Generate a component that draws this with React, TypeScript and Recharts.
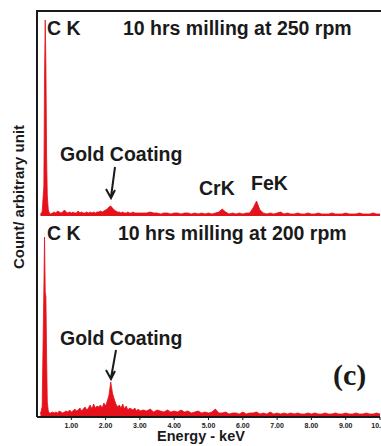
import React from 'react';
import { AreaChart, Area, XAxis, YAxis } from 'recharts';

// Energy (keV) sample positions
const energies = [
  0.10, 0.15, 0.20, 0.22, 0.24, 0.26, 0.28, 0.30, 0.33, 0.36, 0.40,
  0.45, 0.50, 0.55, 0.60, 0.65, 0.70, 0.75, 0.80, 0.85, 0.90,
  0.95, 1.00, 1.05, 1.10, 1.15, 1.20, 1.25, 1.30, 1.35, 1.40,
  1.45, 1.50, 1.55, 1.60, 1.65, 1.70, 1.75, 1.80, 1.85, 1.90,
  1.95, 2.00, 2.05, 2.10, 2.15, 2.20, 2.25, 2.30, 2.35, 2.40,
  2.45, 2.50, 2.55, 2.60, 2.65, 2.70, 2.75, 2.80, 2.85, 2.90,
  2.95, 3.00,
  3.1, 3.2, 3.3, 3.4, 3.5, 3.6, 3.7, 3.8, 3.9, 4.0,
  4.1, 4.2, 4.3, 4.4, 4.5, 4.6, 4.7, 4.8, 4.9, 5.0,
  5.1, 5.2, 5.3, 5.4, 5.5, 5.6, 5.7, 5.8, 5.9, 6.0,
  6.1, 6.2, 6.3, 6.4, 6.5, 6.6, 6.7, 6.8, 6.9, 7.0,
  7.1, 7.2, 7.3, 7.4, 7.5, 7.6, 7.7, 7.8, 7.9, 8.0,
  8.1, 8.2, 8.3, 8.4, 8.5, 8.6, 8.7, 8.8, 8.9, 9.0,
  9.1, 9.2, 9.3, 9.4, 9.5, 9.6, 9.7, 9.8, 9.9, 10.0,
];

// 10 hrs milling at 250 rpm (counts, arbitrary unit)
const topCounts = [
  2, 4, 30, 140, 196, 150, 60, 20, 6, 3, 2,
  3, 4, 3, 5, 4, 3, 4, 6, 4, 3,
  4, 3, 4, 3, 3, 5, 3, 4, 3, 3,
  4, 3, 4, 3, 4, 3, 4, 4, 5, 4,
  5, 6, 7, 9, 10, 8, 6, 5, 4, 4,
  3, 4, 3, 3, 4, 3, 3, 4, 3, 3,
  3, 3,
  3, 3, 4, 3, 3, 2, 3, 3, 2, 3,
  3, 2, 3, 3, 2, 3, 2, 3, 2, 3,
  2, 3, 4, 7, 4, 2, 3, 2, 3, 2,
  3, 3, 8, 15, 6, 3, 2, 3, 2, 3,
  4, 2, 3, 2, 2, 3, 2, 2, 3, 2,
  2, 3, 2, 2, 2, 3, 2, 2, 2, 3,
  2, 2, 2, 3, 2, 2, 2, 3, 2, 2,
];

// 10 hrs milling at 200 rpm (counts, arbitrary unit)
const bottomCounts = [
  3, 10, 127, 180, 125, 120, 60, 15, 6, 4, 4,
  5, 4, 5, 4, 6, 5, 4, 5, 6, 5,
  7, 5, 6, 8, 6, 7, 9, 6, 8, 10,
  7, 9, 12, 8, 13, 9, 11, 10, 12, 9,
  14, 11, 16, 22, 35, 24, 18, 13, 10, 12,
  9, 13, 8, 11, 7, 9, 8, 7, 9, 6,
  8, 6,
  7, 6, 8, 5, 7, 6, 5, 7, 5, 6,
  5, 7, 5, 6, 4, 5, 6, 4, 5, 4,
  5, 8, 4, 4, 5, 3, 4, 4, 3, 5,
  3, 4, 4, 5, 3, 4, 3, 5, 3, 4,
  3, 4, 3, 4, 3, 4, 3, 3, 4, 3,
  4, 3, 3, 4, 3, 3, 4, 3, 3, 4,
  3, 3, 4, 3, 3, 4, 3, 3, 4, 3,
];

const energyTicks = [1, 2, 3, 4, 5, 6, 7, 8, 9, 10];
const topTitle = '10 hrs milling at 250 rpm';
const bottomTitle = '10 hrs milling at 200 rpm';
const peakLabel = 'C K';
const goldLabel = 'Gold Coating';
const crLabel = 'CrK';
const feLabel = 'FeK';
const panelLabel = '(c)';
const xLabel = 'Energy - keV';
const yLabel = 'Count/ arbitrary unit';

const RED = '#e5121b';
const INK = '#1a1a1a';
const FONT = '"Liberation Sans", Arial, sans-serif';

export default function App() {
  const topData = energies.map((e, i) => ({ e, c: topCounts[i] }));
  const bottomData = energies.map((e, i) => ({ e, c: bottomCounts[i] }));
  const txt = { fontFamily: FONT, fontWeight: 700, fill: INK } as const;
  return (
    <div style={{ position: 'absolute', left: 0, top: 0, width: 381, height: 446, background: '#fff', overflow: 'hidden' }}>
      <div style={{ position: 'absolute', left: 36, top: 10, width: 360, height: 407, borderTop: `2px solid ${INK}`, borderLeft: `2px solid ${INK}`, boxSizing: 'border-box' }} />
      <div style={{ position: 'absolute', left: 0, top: 0 }}>
        <AreaChart width={381} height={216} data={topData} margin={{ top: 10, right: 1, bottom: 0, left: 37 }}>
          <XAxis dataKey="e" type="number" domain={[0, 10]} ticks={energyTicks} height={0} tick={false} tickLine={false} axisLine={{ stroke: INK, strokeWidth: 2 }} />
          <YAxis type="number" domain={[0, 206]} hide />
          <Area dataKey="c" type="linear" stroke={RED} strokeWidth={0.8} fill={RED} fillOpacity={1} isAnimationActive={false} dot={false} activeDot={false} />
        </AreaChart>
      </div>
      <div style={{ position: 'absolute', left: 0, top: 216 }}>
        <AreaChart width={381} height={230} data={bottomData} margin={{ top: 0, right: 1, bottom: 0, left: 37 }}>
          <XAxis
            dataKey="e"
            type="number"
            domain={[0, 10]}
            ticks={energyTicks}
            interval={0}
            height={29}
            tickFormatter={(v: number) => v.toFixed(2)}
            tick={{ fontSize: 7, fontWeight: 700, fill: INK, fontFamily: FONT }}
            tickSize={3}
            tickMargin={3}
            tickLine={{ stroke: INK, strokeWidth: 1 }}
            axisLine={{ stroke: INK, strokeWidth: 2 }}
          />
          <YAxis type="number" domain={[0, 201]} hide />
          <Area dataKey="c" type="linear" stroke={RED} strokeWidth={0.8} fill={RED} fillOpacity={1} isAnimationActive={false} dot={false} activeDot={false} />
        </AreaChart>
      </div>
      <svg width={381} height={446} style={{ position: 'absolute', left: 0, top: 0, pointerEvents: 'none' }}>
        <text x={47} y={35} fontSize={19.5} {...txt}>{peakLabel}</text>
        <text x={123} y={35} fontSize={19.5} {...txt}>{topTitle}</text>
        <text x={60} y={161} fontSize={19.5} {...txt}>{goldLabel}</text>
        <path d="M115 167 L111 197 M106 189 L111 198 L115 190" stroke={INK} strokeWidth={2} fill="none" />
        <text x={199} y={195} fontSize={19.5} {...txt}>{crLabel}</text>
        <text x={251} y={190} fontSize={19.5} {...txt}>{feLabel}</text>
        <text x={47} y={240} fontSize={19.5} {...txt}>{peakLabel}</text>
        <text x={118} y={240} fontSize={19.5} {...txt}>{bottomTitle}</text>
        <text x={60} y={345} fontSize={19.5} {...txt}>{goldLabel}</text>
        <path d="M116 350 L111 378 M106 370 L111 379 L115 371" stroke={INK} strokeWidth={2} fill="none" />
        <text x={333} y={385} fontSize={30} fontFamily='"Liberation Serif", "Times New Roman", serif' fontWeight={700} fill={INK}>{panelLabel}</text>
        <text x={201} y={441} fontSize={14.5} textAnchor="middle" {...txt}>{xLabel}</text>
        <text x={24} y={197} fontSize={15} textAnchor="middle" transform="rotate(-90 24 197)" {...txt}>{yLabel}</text>
      </svg>
    </div>
  );
}
